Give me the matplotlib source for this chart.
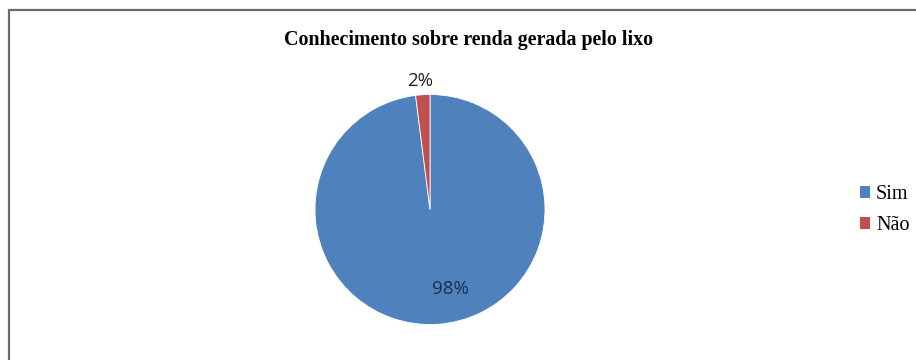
import matplotlib
matplotlib.use("Agg")
import matplotlib.pyplot as plt
from matplotlib.patches import Rectangle, Patch

# Survey answers
categories = ["Sim", "Não"]
values = [98, 2]
colors = ["#4F81BD", "#C0504D"]
title = "Conhecimento sobre renda gerada pelo lixo"

W, H = 916, 360
fig = plt.figure(figsize=(W / 100, H / 100), dpi=100)
fig.patch.set_facecolor("white")

# Frame around the chart area (open at right and bottom)
fig.add_artist(Rectangle((9 / W, -0.1), 1.2, (H - 10) / H + 0.1,
                         transform=fig.transFigure, fill=False,
                         edgecolor="#6b6b6b", linewidth=1.6))

# Pie axes
cx, cy, r = 430, 209.5, 115
ax = fig.add_axes([(cx - r) / W, (H - cy - r) / H, 2 * r / W, 2 * r / H])
wedges, _ = ax.pie(values, colors=colors, startangle=90, counterclock=False,
                   radius=1.0, wedgeprops=dict(linewidth=0.6, edgecolor="white"))
ax.set_xlim(-1, 1)
ax.set_ylim(-1, 1)
ax.set_aspect("equal")
ax.axis("off")

total = sum(values)
label_pos = [(0.174, -0.69), (-0.083, 1.115)]
label_colors = ["#1f2d4d", "#222222"]
for v, (x, y), c in zip(values, label_pos, label_colors):
    ax.text(x, y, f"{round(100 * v / total)}%", ha="center", va="center",
            fontsize=13.5, family="Open Sans", color=c, clip_on=False)

fig.text(468.5 / W, 1 - 40 / H, title, ha="center", va="center",
         fontsize=14.4, fontweight="bold", family="Liberation Serif")

handles = [Patch(facecolor=c, edgecolor="none") for c in colors]
fig.legend(handles, categories, loc="center left",
           bbox_to_anchor=(860 / W, 1 - 210 / H), frameon=False,
           prop={"family": "Liberation Serif", "size": 14.5},
           handlelength=0.5, handleheight=0.5, handletextpad=0.3,
           labelspacing=0.6, borderpad=0, borderaxespad=0)

fig.savefig("out.png", dpi=100)
